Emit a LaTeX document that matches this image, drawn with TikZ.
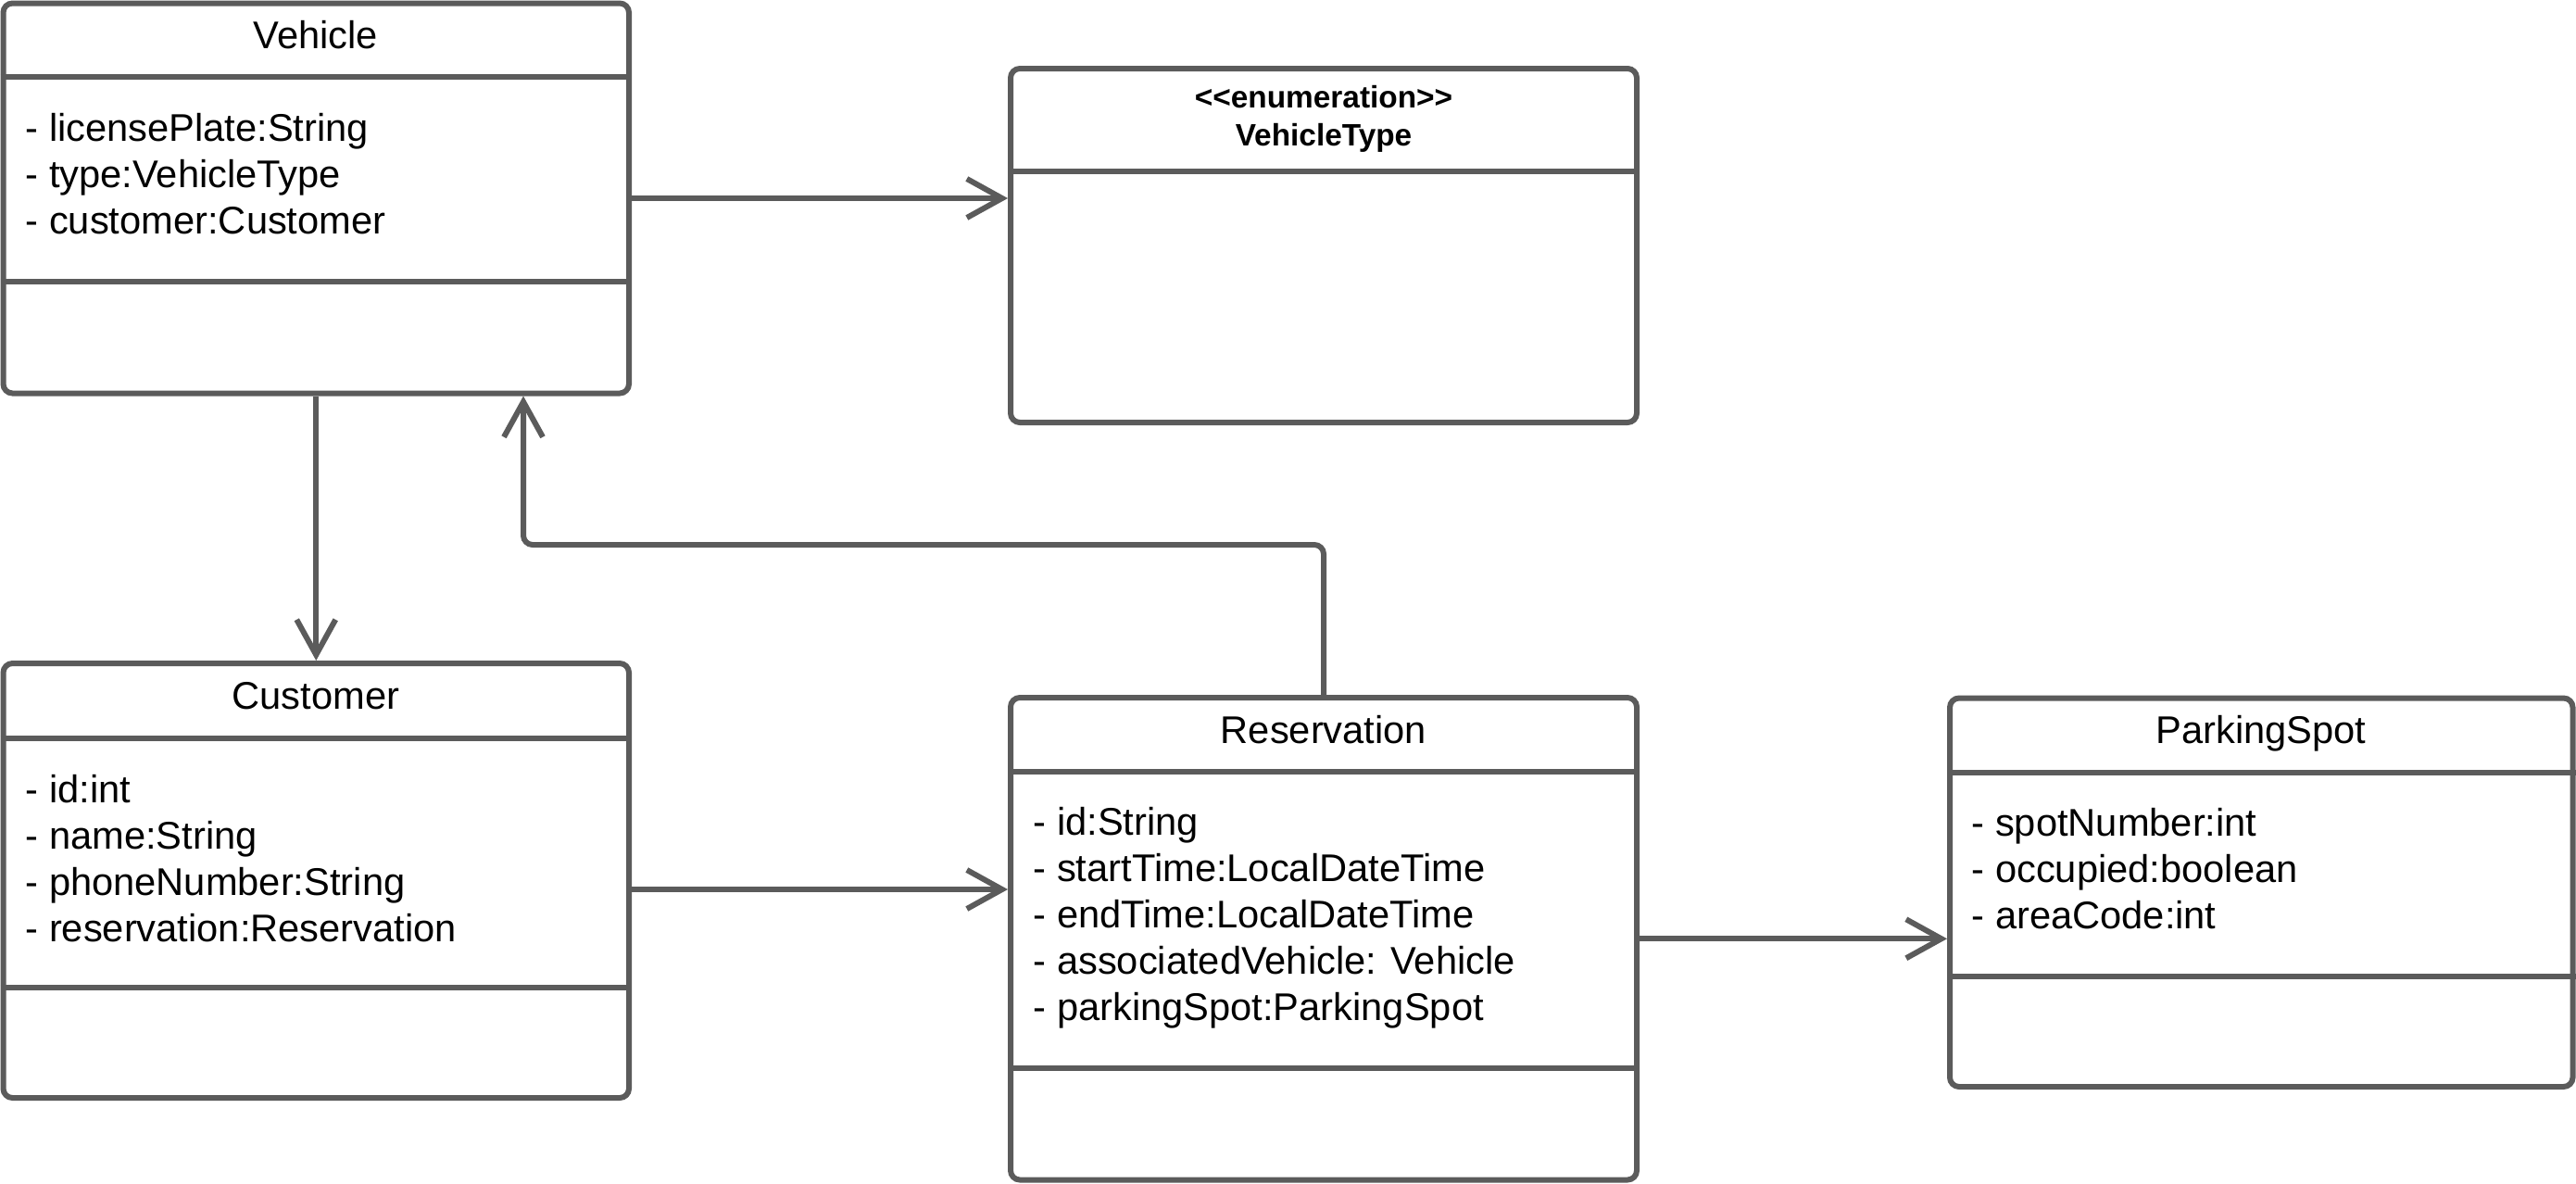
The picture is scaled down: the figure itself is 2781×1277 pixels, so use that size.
\documentclass[tikz,border=0pt]{standalone}
\usepackage{fontspec}
\setmainfont{Liberation Sans}
\usetikzlibrary{arrows.meta,positioning}
\definecolor{umlgray}{HTML}{5B5B5B}

\begin{document}
\begin{tikzpicture}[x=0.1mm,y=-0.1mm,
    classbox/.style={draw=umlgray, line width=0.6mm, rounded corners=1mm, inner sep=0pt},
    divider/.style={draw=umlgray, line width=0.6mm},
    attr/.style={anchor=base west, inner sep=0pt, font=\fontsize{11.85}{14}\selectfont},
    classname/.style={anchor=base, inner sep=0pt, font=\fontsize{11.85}{14}\selectfont},
    stereo/.style={anchor=base, inner sep=0pt, font=\bfseries\fontsize{9.5}{11}\selectfont},
    assoc/.style={draw=umlgray, line width=0.6mm, -{Straight Barb[length=3.8mm,width=4.2mm]}}]
    \useasboundingbox (0,0) rectangle (2781,1277);

    % class boxes
    \node[classbox, minimum width=67.55mm, minimum height=42.1mm] (vehicle) at (341.25,214) {};
    \node[classbox, minimum width=67.6mm, minimum height=38.2mm] (vtype) at (1429,265) {};
    \node[classbox, minimum width=67.55mm, minimum height=46.9mm] (customer) at (341.25,950.5) {};
    \node[classbox, minimum width=67.6mm, minimum height=52.05mm] (reservation) at (1429,1013.25) {};
    \node[classbox, minimum width=67.25mm, minimum height=41.95mm] (parking) at (2441.25,963.25) {};

    % compartments
    \draw[divider] (vehicle.west |- 0,83) -- (vehicle.east |- 0,83);
    \draw[divider] (vehicle.west |- 0,304) -- (vehicle.east |- 0,304);
    \draw[divider] (vtype.west |- 0,185) -- (vtype.east |- 0,185);
    \draw[divider] (customer.west |- 0,797) -- (customer.east |- 0,797);
    \draw[divider] (customer.west |- 0,1066) -- (customer.east |- 0,1066);
    \draw[divider] (reservation.west |- 0,833) -- (reservation.east |- 0,833);
    \draw[divider] (reservation.west |- 0,1153) -- (reservation.east |- 0,1153);
    \draw[divider] (parking.west |- 0,834) -- (parking.east |- 0,834);
    \draw[divider] (parking.west |- 0,1054) -- (parking.east |- 0,1054);

    % Vehicle
    \node[classname] (vehicle-name) at (341,52) {Vehicle};
    \node[attr] (vehicle-a1) at (27,152) {- licensePlate:String};
    \node[attr] (vehicle-a2) at (27,202) {- type:VehicleType};
    \node[attr] (vehicle-a3) at (27,252) {- customer:Customer};

    % VehicleType
    \node[stereo] (vtype-stereo) at (1429,116) {<\kern0pt<enumeration>\kern0pt>};
    \node[stereo] (vtype-name) at (1429,157) {VehicleType};

    % Customer
    \node[classname] (customer-name) at (341,765) {Customer};
    \node[attr] (customer-a1) at (27,866) {- id:int};
    \node[attr] (customer-a2) at (27,916) {- name:String};
    \node[attr] (customer-a3) at (27,966) {- phoneNumber:String};
    \node[attr] (customer-a4) at (27,1016) {- reservation:Reservation};

    % Reservation
    \node[classname] (reservation-name) at (1429,802) {Reservation};
    \node[attr] (reservation-a1) at (1115,901) {- id:String};
    \node[attr] (reservation-a2) at (1115,951) {- startTime:LocalDateTime};
    \node[attr] (reservation-a3) at (1115,1001) {- endTime:LocalDateTime};
    \node[attr] (reservation-a4) at (1115,1051) {- associatedVehicle: Vehicle};
    \node[attr] (reservation-a5) at (1115,1101) {- parkingSpot:ParkingSpot};

    % ParkingSpot
    \node[classname] (parking-name) at (2441,802) {ParkingSpot};
    \node[attr] (parking-a1) at (2128,902) {- spotNumber:int};
    \node[attr] (parking-a2) at (2128,952) {- occupied:boolean};
    \node[attr] (parking-a3) at (2128,1002) {- areaCode:int};

    % associations
    \draw[assoc] (vehicle.east) -- (vehicle.east -| vtype.west);
    \draw[assoc] (vehicle.south) -- (customer.north);
    \draw[assoc] ([yshift=-0.95mm]customer.east) -- ([yshift=-0.95mm]customer.east -| reservation.west);
    \draw[assoc] (reservation.east) -- (reservation.east -| parking.west);
    \coordinate (elbow) at (565,588);
    \draw[assoc, rounded corners=1mm] (reservation.north) |- (elbow) -- (elbow |- vehicle.south);
\end{tikzpicture}
\end{document}
